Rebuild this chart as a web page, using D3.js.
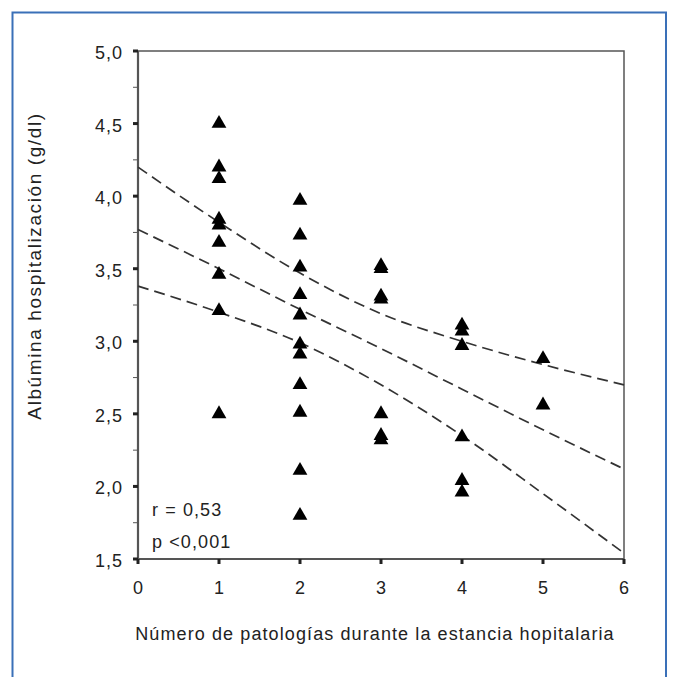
<!DOCTYPE html>
<html>
<head>
<meta charset="utf-8">
<script src="https://cdn.jsdelivr.net/npm/d3@7"></script>
<style>
  body { margin: 0; background: #fff; }
  svg { display: block; font-family: "Liberation Sans", Arial, sans-serif; }
</style>
</head>
<body>
<div class="chart"></div>
<script>
// number of pathologies during hospital stay vs albumin (g/dl)
const patologias = [1, 1, 1, 1, 1, 1, 1, 1, 1,
  2, 2, 2, 2, 2, 2, 2, 2, 2, 2, 2,
  3, 3, 3, 3, 3, 3, 3,
  4, 4, 4, 4, 4, 4,
  5, 5];
const albumina = [4.50, 4.20, 4.12, 3.84, 3.80, 3.68, 3.46, 3.21, 2.50,
  3.97, 3.73, 3.51, 3.32, 3.18, 2.98, 2.91, 2.70, 2.51, 2.11, 1.80,
  3.52, 3.50, 3.31, 3.29, 2.50, 2.35, 2.32,
  3.11, 3.07, 2.97, 2.34, 2.04, 1.96,
  2.88, 2.56];

// regression line and 95% band read at each x
const bandX = [0, 1, 2, 3, 4, 5, 6];
const bandUpper = [4.20, 3.82, 3.47, 3.19, 3.00, 2.84, 2.70];
const bandMid = [3.77, 3.50, 3.22, 2.95, 2.67, 2.39, 2.12];
const bandLower = [3.38, 3.20, 2.99, 2.70, 2.35, 1.95, 1.54];

const xTicks = [0, 1, 2, 3, 4, 5, 6];
const yTicks = [1.5, 2.0, 2.5, 3.0, 3.5, 4.0, 4.5, 5.0];
const yMinor = [1.75, 2.25, 2.75, 3.25, 3.75, 4.25, 4.75];
const notes = ["r = 0,53", "p <0,001"];

const width = 674, height = 677;
const axisColor = "#555";
const textColor = "#222";

const svg = d3.select(".chart")
  .append("svg")
  .attr("width", width)
  .attr("height", height);

// blue frame around the figure (bottom edge falls outside)
svg.append("path")
  .attr("d", "M12.5,690 V12.5 H666 V690")
  .attr("fill", "none")
  .attr("stroke", "#3a70b8")
  .attr("stroke-width", 2);

const x = d3.scaleLinear().domain([0, 6]).range([138, 624]);
const y = d3.scaleLinear().domain([1.5, 5]).range([559, 51]);

const fmt = d => d3.format(".1f")(d).replace(".", ",");

// plot box
svg.append("rect")
  .attr("x", x(0))
  .attr("y", y(5))
  .attr("width", x(6) - x(0))
  .attr("height", y(1.5) - y(5))
  .attr("fill", "none")
  .attr("stroke", axisColor)
  .attr("stroke-width", 1.5);

// y axis
svg.append("line")
  .attr("x1", x(0)).attr("x2", x(0))
  .attr("y1", y(5)).attr("y2", y(1.5))
  .attr("stroke", axisColor)
  .attr("stroke-width", 2.2);

svg.selectAll(".ytick")
  .data(yTicks)
  .enter().append("rect")
  .attr("class", "ytick")
  .attr("x", x(0) - 5)
  .attr("y", d => y(d) - 1.5)
  .attr("width", 5)
  .attr("height", 3)
  .attr("fill", textColor);

svg.selectAll(".yminor")
  .data(yMinor)
  .enter().append("line")
  .attr("class", "yminor")
  .attr("x1", x(0) - 5).attr("x2", x(0))
  .attr("y1", d => y(d)).attr("y2", d => y(d))
  .attr("stroke", axisColor)
  .attr("stroke-width", 1);

svg.selectAll(".ylabel")
  .data(yTicks)
  .enter().append("text")
  .attr("class", "ylabel")
  .attr("x", x(0) - 15)
  .attr("y", d => y(d) + 8)
  .attr("text-anchor", "end")
  .attr("font-size", 18)
  .attr("letter-spacing", 1)
  .attr("fill", textColor)
  .text(fmt);

// x axis
svg.append("line")
  .attr("x1", x(0)).attr("x2", x(6))
  .attr("y1", y(1.5)).attr("y2", y(1.5))
  .attr("stroke", axisColor)
  .attr("stroke-width", 2.2);

svg.selectAll(".xtick")
  .data(xTicks)
  .enter().append("rect")
  .attr("class", "xtick")
  .attr("x", d => x(d) - 1.5)
  .attr("y", y(1.5))
  .attr("width", 3)
  .attr("height", 5)
  .attr("fill", textColor);

svg.selectAll(".xlabel")
  .data(xTicks)
  .enter().append("text")
  .attr("class", "xlabel")
  .attr("x", d => x(d))
  .attr("y", 594)
  .attr("text-anchor", "middle")
  .attr("font-size", 18)
  .attr("fill", textColor)
  .text(d => d);

// axis titles
svg.append("text")
  .attr("x", 375)
  .attr("y", 640)
  .attr("text-anchor", "middle")
  .attr("font-size", 18)
  .attr("letter-spacing", 1.1)
  .attr("fill", textColor)
  .text("Número de patologías durante la estancia hopitalaria");

svg.append("text")
  .attr("transform", "translate(41,266) rotate(-90)")
  .attr("text-anchor", "middle")
  .attr("font-size", 19)
  .attr("letter-spacing", 1.6)
  .attr("fill", textColor)
  .text("Albúmina hospitalización (g/dl)");

// regression line + confidence band, dashed
const line = d3.line()
  .x((d, i) => x(bandX[i]))
  .y(d => y(d))
  .curve(d3.curveMonotoneX);

[bandUpper, bandMid, bandLower].forEach(series => {
  svg.append("path")
    .attr("d", line(series))
    .attr("fill", "none")
    .attr("stroke", "#333")
    .attr("stroke-width", 1.7)
    .attr("stroke-dasharray", "11,6");
});

// points
const tri = d3.symbol().type(d3.symbolTriangle).size(95);
svg.selectAll(".pt")
  .data(albumina)
  .enter().append("path")
  .attr("class", "pt")
  .attr("d", tri)
  .attr("transform", (d, i) => `translate(${x(patologias[i])},${y(d)})`)
  .attr("fill", "#000");

// r and p annotation
svg.selectAll(".note")
  .data(notes)
  .enter().append("text")
  .attr("class", "note")
  .attr("x", 152)
  .attr("y", (d, i) => 516 + i * 32)
  .attr("font-size", 18)
  .attr("letter-spacing", 1.1)
  .attr("fill", textColor)
  .text(d => d);
</script>
</body>
</html>
